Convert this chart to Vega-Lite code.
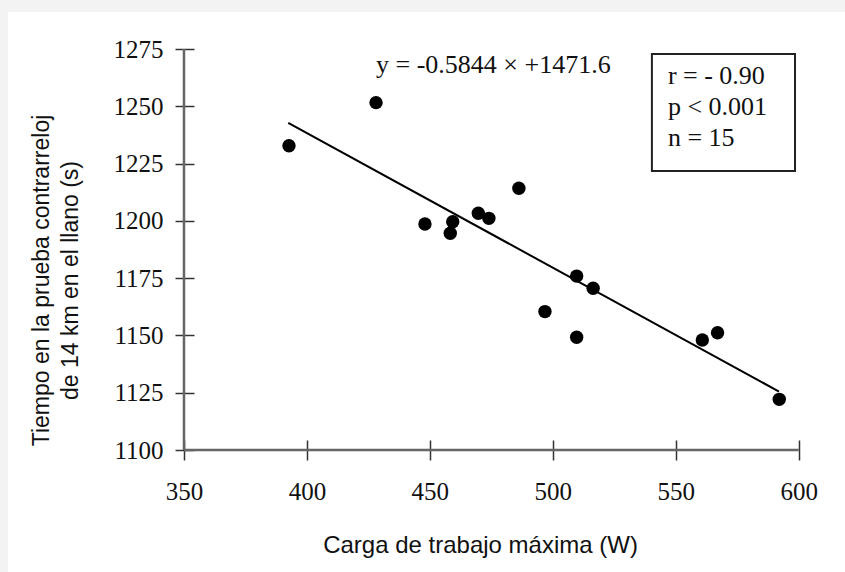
{
  "$schema": "https://vega.github.io/schema/vega-lite/v6.json",
  "width": 837,
  "height": 560,
  "autosize": "none",
  "padding": {"left": 8, "top": 12, "right": 0, "bottom": 0},
  "background": "#f3f3f3",
  "config": {"view": {"fill": "white", "stroke": null}, "axis": {"grid": false}},
  "datasets": {
    "points": [
      {"carga": 392.7, "tiempo": 1232.8},
      {"carga": 428.1, "tiempo": 1251.6},
      {"carga": 448.0, "tiempo": 1198.6},
      {"carga": 459.3, "tiempo": 1199.6},
      {"carga": 458.3, "tiempo": 1194.6},
      {"carga": 469.7, "tiempo": 1203.3},
      {"carga": 474.0, "tiempo": 1201.1},
      {"carga": 486.2, "tiempo": 1214.2},
      {"carga": 509.7, "tiempo": 1175.9},
      {"carga": 516.4, "tiempo": 1170.6},
      {"carga": 496.8, "tiempo": 1160.4},
      {"carga": 509.7, "tiempo": 1149.2},
      {"carga": 560.8, "tiempo": 1148.0},
      {"carga": 567.0, "tiempo": 1151.2},
      {"carga": 592.1, "tiempo": 1122.1}
    ],
    "fit": [
      {"carga": 392.4, "tiempo": 1242.8},
      {"carga": 592.0, "tiempo": 1125.5}
    ]
  },
  "layer": [
    {
      "data": {"name": "points"},
      "mark": {"type": "circle", "size": 180, "color": "black", "opacity": 1},
      "encoding": {
        "x": {
          "field": "carga",
          "type": "quantitative",
          "scale": {"domain": [278.43, 618.83], "nice": false, "zero": false},
          "axis": {
            "values": [350, 400, 450, 500, 550, 600],
            "format": "d",
            "offset": -132,
            "tickSize": 20,
            "tickColor": "#333",
            "tickWidth": 1.5,
            "domain": false,
            "labelFont": "Liberation Serif",
            "labelFontSize": 25,
            "labelColor": "#111",
            "labelPadding": 19,
            "title": "Carga de trabajo máxima (W)",
            "titleFont": "Liberation Sans",
            "titleFontWeight": "normal",
            "titleFontSize": 24,
            "titleColor": "#111",
            "titleX": 472,
            "titleY": 105,
            "titleAlign": "center",
            "titleBaseline": "middle"
          }
        },
        "y": {
          "field": "tiempo",
          "type": "quantitative",
          "scale": {"domain": [1046.76, 1291.15], "nice": false, "zero": false},
          "axis": {
            "values": [1100, 1125, 1150, 1175, 1200, 1225, 1250, 1275],
            "format": "d",
            "offset": -186,
            "tickSize": 19,
            "tickColor": "#333",
            "tickWidth": 1.5,
            "domain": false,
            "labelFont": "Liberation Serif",
            "labelFontSize": 25,
            "labelColor": "#111",
            "labelPadding": 12,
            "title": ["Tiempo en la prueba contrarreloj", "de 14 km en el llano (s)"],
            "titleFont": "Liberation Sans",
            "titleFontWeight": "normal",
            "titleFontSize": 23,
            "titleColor": "#111",
            "titleLineHeight": 29,
            "titleX": -153,
            "titleY": 268,
            "titleAngle": -90,
            "titleAlign": "center",
            "titleBaseline": "middle"
          }
        }
      }
    },
    {
      "data": {"name": "fit"},
      "mark": {"type": "line", "color": "black", "strokeWidth": 2},
      "encoding": {
        "x": {"field": "carga", "type": "quantitative"},
        "y": {"field": "tiempo", "type": "quantitative"}
      }
    },
    {
      "data": {"values": [{}]},
      "mark": {"type": "rule", "color": "#666", "strokeWidth": 2.5},
      "encoding": {
        "x": {"datum": 350, "type": "quantitative"},
        "x2": {"datum": 600},
        "y": {"datum": 1100, "type": "quantitative"}
      }
    },
    {
      "data": {"values": [{}]},
      "mark": {"type": "rule", "color": "#666", "strokeWidth": 2.5},
      "encoding": {
        "x": {"datum": 350, "type": "quantitative"},
        "y": {"datum": 1100, "type": "quantitative"},
        "y2": {"datum": 1275}
      }
    },
    {
      "data": {"values": [{}]},
      "mark": {"type": "rect", "fill": null, "stroke": "#222", "strokeWidth": 2},
      "encoding": {
        "x": {"datum": 540.3, "type": "quantitative"},
        "x2": {"datum": 598.5},
        "y": {"datum": 1272.8, "type": "quantitative"},
        "y2": {"datum": 1221.8}
      }
    },
    {
      "data": {"values": [{}]},
      "mark": {
        "type": "text",
        "text": ["r = - 0.90", "p < 0.001", "n = 15"],
        "font": "Liberation Serif",
        "fontSize": 26,
        "lineHeight": 31,
        "align": "left",
        "baseline": "middle",
        "color": "#111"
      },
      "encoding": {
        "x": {"datum": 546.8, "type": "quantitative"},
        "y": {"datum": 1263.4, "type": "quantitative"}
      }
    },
    {
      "data": {"values": [{}]},
      "mark": {
        "type": "text",
        "text": "y = -0.5844  × +1471.6",
        "font": "Liberation Serif",
        "fontSize": 26,
        "align": "center",
        "baseline": "middle",
        "color": "#111"
      },
      "encoding": {
        "x": {"datum": 475.8, "type": "quantitative"},
        "y": {"datum": 1268.0, "type": "quantitative"}
      }
    }
  ]
}
